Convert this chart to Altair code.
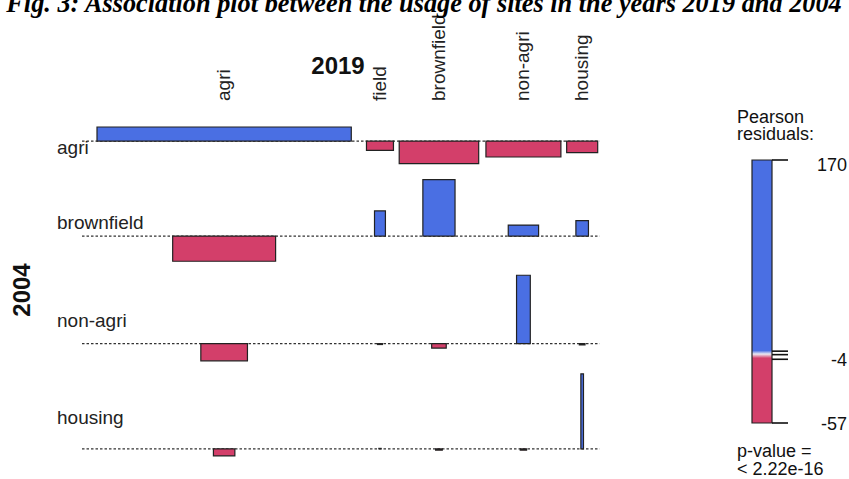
import math
import altair as alt
import pandas as pd

# Land-use categories of the sites in each survey year
cats_2004 = ["agri", "brownfield", "non-agri", "housing"]
cats_2019 = ["agri", "field", "brownfield", "non-agri", "housing"]

# Pearson residuals, one list per 2004 category (entries follow the 2019 order)
resid_agri = [32, -21, -51, -36, -26]
resid_brownfield = [-57, 57, 128, 25, 35]
resid_nonagri = [-39, -2, -10, 155, -3]
resid_housing = [-16, 1, -3, -3, 170]

# Marginal shares (%) of the two years, giving the expected counts
share_2004 = [83.0, 13.6, 2.79, 0.59]
share_2019 = [82.6, 0.93, 8.07, 7.18, 1.23]

# Residual legend
legend_min, legend_max = -57, 170
legend_labels = [170, -4, -57]
legend_marks = [170, 5, 2, -2, -57]
p_value = "< 2.22e-16"

title_text = "Fig. 3: Association plot between the usage of sites in the years 2019 and 2004"

# ---------------------------------------------------------------- layout
BLUE = "#4A6FE3"
RED = "#D33F6A"
SANS = "Liberation Sans"
PX_X = 3.071      # pixels per unit of sqrt(expected)
PX_Y = 0.4412     # pixels per residual unit
X0, Y0 = 97, 127
COL_GAPS_PX = [15.2, 5.75, 7.25, 5.75]
ROW_GAPS_PX = [16, 14, 13]

residuals = [resid_agri, resid_brownfield, resid_nonagri, resid_housing]
widths = [[math.sqrt(p * q) for q in share_2019] for p in share_2004]
col_w = [max(widths[i][j] for i in range(len(cats_2004))) for j in range(len(cats_2019))]

centers, pos = [], 0.0
for j, w in enumerate(col_w):
    centers.append(pos + w / 2)
    pos += w
    if j < len(COL_GAPS_PX):
        pos += COL_GAPS_PX[j] / PX_X
total_x = pos

tops, bases, bottoms, pos = [], [], [], 0.0
for i, r in enumerate(residuals):
    up = max(max(r), 0)
    down = max(-min(r), 0)
    tops.append(pos)
    bases.append(pos + up)
    bottoms.append(pos + up + down)
    pos = pos + up + down
    if i < len(ROW_GAPS_PX):
        pos += ROW_GAPS_PX[i] / PX_Y
total_y = pos

bars = pd.DataFrame([
    {
        "row": cats_2004[i], "col": cats_2019[j], "resid": residuals[i][j],
        "x": centers[j] - widths[i][j] / 2, "x2": centers[j] + widths[i][j] / 2,
        "y": bases[i], "y2": bases[i] - residuals[i][j],
        "sign": "pos" if residuals[i][j] > 0 else "neg",
    }
    for i in range(len(cats_2004)) for j in range(len(cats_2019))
])
baselines = pd.DataFrame({
    "y": bases,
    "x": [-15 / PX_X] * len(bases),
    "x2": [total_x + 2 / PX_X] * len(bases),
})
row_labels = pd.DataFrame({
    "label": cats_2004,
    "y": [(t + b) / 2 for t, b in zip(tops, bottoms)],
})
col_labels = pd.DataFrame({"label": cats_2019, "x": centers})

xs = alt.Scale(domain=[0, total_x], range=[X0, X0 + total_x * PX_X], nice=False, zero=False)
ys = alt.Scale(domain=[0, total_y], range=[Y0, Y0 + total_y * PX_Y], nice=False, zero=False)
ls = alt.Scale(domain=[legend_min, legend_max], range=[423, 160], nice=False, zero=False)

rules = alt.Chart(baselines).mark_rule(
    color="#333333", strokeWidth=1.3, strokeDash=[2.5, 2]
).encode(
    x=alt.X("x:Q", scale=xs, axis=None),
    x2="x2:Q",
    y=alt.Y("y:Q", scale=ys, axis=None),
)

rects = alt.Chart(bars).mark_rect(stroke="#222222", strokeWidth=1.2).encode(
    x=alt.X("x:Q", scale=xs, axis=None),
    x2="x2:Q",
    y=alt.Y("y:Q", scale=ys, axis=None),
    y2="y2:Q",
    fill=alt.Fill("sign:N", scale=alt.Scale(domain=["pos", "neg"], range=[BLUE, RED]), legend=None),
)

rlab = alt.Chart(row_labels).mark_text(
    font=SANS, fontSize=19, align="left", baseline="alphabetic", dy=9, color="#222222"
).encode(
    x=alt.value(57),
    y=alt.Y("y:Q", scale=ys, axis=None),
    text="label:N",
)

clab = alt.Chart(col_labels).mark_text(
    font=SANS, fontSize=19, align="left", baseline="middle", angle=270, color="#222222"
).encode(
    x=alt.X("x:Q", scale=xs, axis=None),
    y=alt.value(101),
    text="label:N",
)

def label(text, x, y, size, **kw):
    return alt.Chart(pd.DataFrame({"t": [text]})).mark_text(
        font=kw.pop("font", SANS), fontSize=size, color=kw.pop("color", "#111111"), **kw
    ).encode(x=alt.value(x), y=alt.value(y), text="t:N")

heading = label(title_text, 424, 12, 26.3, font="Liberation Serif", fontWeight="bold",
                fontStyle="italic", align="center", baseline="alphabetic", color="#000000")
var_2019 = label("2019", 338, 67, 24, fontWeight="bold", align="center", baseline="middle")
var_2004 = label("2004", 23, 290, 24, fontWeight="bold", align="center", baseline="middle", angle=270)

# legend: gradient bar on the residual scale
def off(v):
    return (legend_max - v) / (legend_max - legend_min)

gradient = {
    "gradient": "linear", "x1": 0, "y1": 0, "x2": 0, "y2": 1,
    "stops": [
        {"offset": 0, "color": BLUE},
        {"offset": off(5.5), "color": BLUE},
        {"offset": off(2.5), "color": "#ECEAF2"},
        {"offset": off(-1), "color": RED},
        {"offset": 1, "color": RED},
    ],
}
legend_bar = alt.Chart(pd.DataFrame({"top": [legend_max], "bottom": [legend_min]})).mark_rect(
    fill=gradient, stroke="#222222", strokeWidth=1.2
).encode(
    x=alt.value(752), x2=alt.value(772),
    y=alt.Y("top:Q", scale=ls, axis=None), y2="bottom:Q",
)
legend_ticks = alt.Chart(pd.DataFrame({"v": legend_marks})).mark_rule(
    color="#111111", strokeWidth=1.6
).encode(
    x=alt.value(772), x2=alt.value(788),
    y=alt.Y("v:Q", scale=ls, axis=None),
)
label_dy = {170: 6, -4: -1, -57: 2}
legend_text = [
    alt.Chart(pd.DataFrame({"v": [v], "t": [str(v)]})).mark_text(
        font=SANS, fontSize=18, align="right", baseline="middle", dy=label_dy[v], color="#111111"
    ).encode(x=alt.value(847), y=alt.Y("v:Q", scale=ls, axis=None), text="t:N")
    for v in legend_labels
]

legend_head = [
    label("Pearson", 737, 123, 18, align="left", baseline="alphabetic"),
    label("residuals:", 737, 140, 18, align="left", baseline="alphabetic"),
    label("p-value =", 737, 457, 18, align="left", baseline="alphabetic"),
    label(p_value, 737, 475, 18, align="left", baseline="alphabetic"),
]

chart = alt.layer(
    rules, rects, rlab, clab, heading, var_2019, var_2004,
    legend_bar, legend_ticks, *legend_text, *legend_head,
).resolve_scale(
    x="independent", y="independent", fill="independent"
).properties(
    width=849, height=479,
    autosize=alt.AutoSizeParams(type="none"),
    padding=0,
    background="white",
).configure_view(stroke=None)

chart.save("out.html", embed_options={"renderer": "svg", "actions": False})
